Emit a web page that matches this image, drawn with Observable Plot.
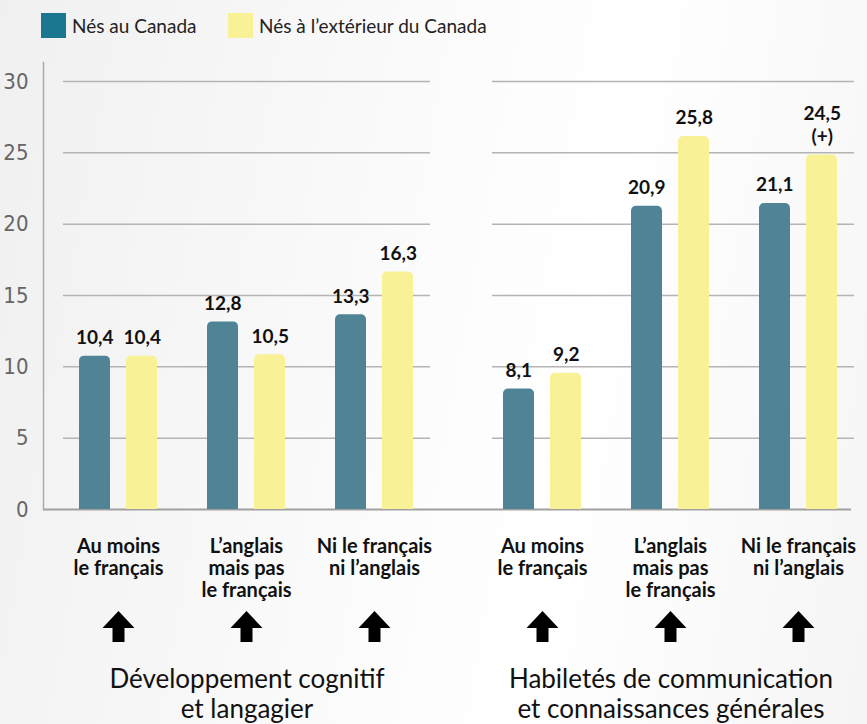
<!DOCTYPE html>
<html>
<head>
<meta charset="utf-8">
<script src="https://cdn.jsdelivr.net/npm/d3@7"></script>
<script src="https://cdn.jsdelivr.net/npm/@observablehq/plot@0.6"></script>
<style>
  html, body { margin: 0; padding: 0; }
  body {
    width: 867px; height: 724px; overflow: hidden;
    background: linear-gradient(100deg, #f0f0f0 0%, #fbfbfb 45%, #ffffff 65%, #f5f5f5 100%);
    font-family: Lato, "Noto Sans", sans-serif;
  }
  #legend { height: 50px; position: relative; font-size: 19px; color: #222; }
  .item { position: absolute; top: 13px; display: flex; align-items: center; height: 25px; }
  .sw { width: 25px; height: 25px; margin-right: 6px; }
  svg { display: block; background: transparent; }
</style>
</head>
<body>
<div id="legend"></div>
<div id="chart"></div>
<script>
const panels = ["Développement cognitif et langagier", "Habiletés de communication et connaissances générales"];
const panelTitles = ["Développement cognitif\net langagier", "Habiletés de communication\net connaissances générales"];
const groups = ["Au moins le français", "L’anglais mais pas le français", "Ni le français ni l’anglais"];
const groupLabels = ["Au moins\nle français", "L’anglais\nmais pas\nle français", "Ni le français\nni l’anglais"];
const series = ["Nés au Canada", "Nés à l’extérieur du Canada"];
const bornCanada = [10.4, 12.8, 13.3, 8.1, 20.9, 21.1];
const bornAbroad = [10.4, 10.5, 16.3, 9.2, 25.8, 24.5];
const abroadFlags = ["", "", "", "", "", "(+)"];
const yTicks = [0, 5, 10, 15, 20, 25, 30];
const colors = ["#508395", "#f8f196"];
const legendColors = ["#1b7690", "#f8f196"];

const fmt = v => v.toFixed(1).replace(".", ",");
const rows = [];
bornCanada.forEach((v, i) => rows.push({panel: panels[Math.floor(i / 3)], group: groups[i % 3], series: series[0], value: v, label: fmt(v)}));
bornAbroad.forEach((v, i) => rows.push({panel: panels[Math.floor(i / 3)], group: groups[i % 3], series: series[1], value: v, label: fmt(v) + (abroadFlags[i] ? "\n" + abroadFlags[i] : "")}));
const canada = rows.filter(d => d.series === series[0]);
const abroad = rows.filter(d => d.series === series[1]);

// legend
const legend = document.getElementById("legend");
const lx = [41, 228];
series.forEach((s, i) => {
  const it = document.createElement("div");
  it.className = "item";
  it.style.left = lx[i] + "px";
  it.innerHTML = `<div class="sw" style="background:${legendColors[i]}"></div><span>${s}</span>`;
  legend.appendChild(it);
});

const off = 23.75;
const chart = Plot.plot({
  width: 867,
  height: 674,
  marginTop: 31,
  marginBottom: 215,
  marginLeft: 62,
  marginRight: 12,
  style: {background: "transparent", fontFamily: "Lato, 'Noto Sans', sans-serif"},
  fx: {domain: panels, paddingInner: 0.134, paddingOuter: 0, label: null},
  x: {domain: groups, paddingInner: 0.388, paddingOuter: 0.12, label: null},
  y: {domain: [0, 30], label: null},
  marks: [
    Plot.ruleY(yTicks.filter(t => t > 0), {fx: () => panels[0], stroke: "#b4b4b4", strokeWidth: 1.5}),
    Plot.ruleY(yTicks.filter(t => t > 0), {fx: () => panels[1], stroke: "#b4b4b4", strokeWidth: 1.5, insetLeft: 5}),
    Plot.ruleY([0], {fx: () => panels[0], stroke: "#a0a0a0", strokeWidth: 2, insetLeft: -20, insetRight: -57}),
    Plot.ruleY([0], {fx: () => panels[1], stroke: "#a0a0a0", strokeWidth: 2, insetRight: 3}),
    Plot.frame({anchor: "left", fx: () => panels[0], stroke: "#aaaaaa", strokeWidth: 1.5, dx: -20, insetTop: -19}),
    Plot.axisY({ticks: yTicks, tickSize: 0, tickPadding: 35, fontSize: 22, fill: "#666",
      fontFamily: "'Liberation Sans Narrow', 'DejaVu Sans Condensed', sans-serif", label: null}),
    Plot.axisX({anchor: "bottom", tickSize: 0, tickPadding: 28, fontSize: 20, fontWeight: "bold", fill: "#111",
      lineHeight: 1.1, tickFormat: d => groupLabels[groups.indexOf(d)], label: null}),
    Plot.axisFx({anchor: "bottom", tickSize: 0, tickPadding: 158, fontSize: 26, fill: "#111",
      lineHeight: 1.13, tickFormat: d => panelTitles[panels.indexOf(d)], label: null}),
    Plot.barY(canada, {fx: "panel", x: "group", y: "value", fill: colors[0], insetRight: 47, insetTop: -5, ry1: 5}),
    Plot.barY(abroad, {fx: "panel", x: "group", y: "value", fill: colors[1], insetLeft: 47, insetTop: -5, ry1: 5}),
    Plot.text(canada, {fx: "panel", x: "group", y: "value", text: "label", dx: -off, dy: -17, lineAnchor: "bottom",
      fontSize: 19, fontWeight: "bold", fill: "#111"}),
    Plot.text(abroad, {fx: "panel", x: "group", y: "value", text: "label", dx: off, dy: -17, lineAnchor: "bottom",
      fontSize: 19, fontWeight: "bold", fill: "#111", lineHeight: 1.2}),
    Plot.dot(groups, {x: d => d, frameAnchor: "bottom", dy: 117, fill: "#000", stroke: "none",
      symbol: {draw(ctx) {
        ctx.moveTo(0, -15.5); ctx.lineTo(16, 1.5); ctx.lineTo(6, 1.5); ctx.lineTo(6, 15.5);
        ctx.lineTo(-6, 15.5); ctx.lineTo(-6, 1.5); ctx.lineTo(-16, 1.5); ctx.closePath();
      }}})
  ]
});
document.getElementById("chart").appendChild(chart);
</script>
</body>
</html>
